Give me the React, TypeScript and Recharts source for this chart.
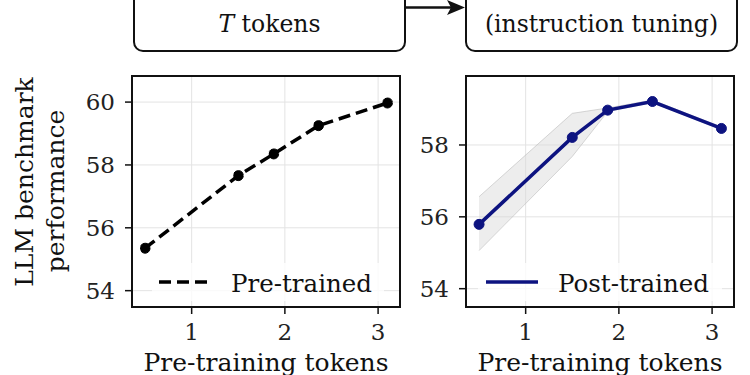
import React from 'react';
import {
  ComposedChart, Line, Area, XAxis, YAxis, CartesianGrid, Legend, ReferenceArea,
} from 'recharts';

// pre-training tokens (x) for each checkpoint
const tokens = [0.5, 1.5, 1.88, 2.36, 3.1];
const preTrained = [55.35, 57.66, 58.35, 59.25, 59.97];
const postTrained = [55.79, 58.21, 58.97, 59.21, 58.46];
const postLow = [55.06, 57.68, 58.93, 59.18, 58.43];
const postHigh = [56.56, 58.88, 59.03, 59.25, 58.5];

const xTicks = [1, 2, 3];
const leftYTicks = [54, 56, 58, 60];
const rightYTicks = [54, 56, 58];

const xDomain: [number, number] = [0.36, 3.235];
const leftYDomain: [number, number] = [53.48, 60.83];
const rightYDomain: [number, number] = [53.49, 59.92];

const preData = tokens.map((t, i) => ({ t, value: preTrained[i] }));
const postData = tokens.map((t, i) => ({ t, value: postTrained[i], band: [postLow[i], postHigh[i]] }));

const FONT = '"DejaVu Serif", serif';
const NAVY = '#0d1380';
const tickStyle = { fontFamily: FONT, fontSize: 23, fill: '#222' };

const xLabel = {
  value: 'Pre-training tokens',
  position: 'insideBottom' as const,
  offset: 4,
  style: { fontFamily: FONT, fontSize: 25, fill: '#111', textAnchor: 'middle' as const },
};

const LegendBox = ({ label, dashed, color, width, lineX }: { label: string; dashed: boolean; color: string; width: number; lineX: number }) => (
  <svg width={width} height={38} style={{ display: 'block' }}>
    <rect x={0} y={0} width={width} height={38} fill="#fff" fillOpacity={0.8} />
    <line x1={lineX} x2={lineX + 52} y1={19} y2={19} stroke={color} strokeWidth={3.5} strokeDasharray={dashed ? '12 6' : undefined} />
    <text x={lineX + 72} y={29} fontFamily={FONT} fontSize={24.5} fill="#111">{label}</text>
  </svg>
);

const App: React.FC = () => {
  return (
    <div style={{ position: 'absolute', left: 0, top: 0, width: 750, height: 375, background: '#fff', overflow: 'hidden' }}>
      {/* left panel: pre-trained */}
      <div style={{ position: 'absolute', left: 60, top: 60 }}>
        <ComposedChart width={360} height={315} data={preData} margin={{ top: 16, right: 20, left: 12, bottom: 0 }}>
          <CartesianGrid stroke="#e3e3e3" strokeWidth={1} />
          <XAxis type="number" dataKey="t" domain={xDomain} ticks={xTicks} allowDataOverflow height={68}
            tick={tickStyle} tickSize={7} tickMargin={10} axisLine={{ stroke: '#111', strokeWidth: 2 }} tickLine={{ stroke: '#111', strokeWidth: 1.5 }}
            label={xLabel} />
          <YAxis type="number" domain={leftYDomain} ticks={leftYTicks} allowDataOverflow width={60}
            tick={tickStyle} tickSize={7} tickMargin={10} axisLine={{ stroke: '#111', strokeWidth: 2 }} tickLine={{ stroke: '#111', strokeWidth: 1.5 }} />
          <ReferenceArea x1={xDomain[0]} x2={xDomain[1]} y1={leftYDomain[0]} y2={leftYDomain[1]} fill="none" stroke="#111" strokeWidth={2} fillOpacity={0} ifOverflow="visible" />
          <Line dataKey="value" name="Pre-trained" stroke="#000" strokeWidth={3.5} strokeDasharray="12 6"
            dot={{ r: 5, fill: '#000', stroke: '#000', strokeWidth: 1 }} isAnimationActive={false} />
          <Legend verticalAlign="middle" align="center" content={() => <LegendBox label="Pre-trained" dashed color="#000" width={232} lineX={7} />}
            wrapperStyle={{ position: 'absolute', left: 92, top: 203, width: 232, height: 38 }} />
        </ComposedChart>
      </div>

      {/* right panel: post-trained */}
      <div style={{ position: 'absolute', left: 394, top: 60 }}>
        <ComposedChart width={356} height={315} data={postData} margin={{ top: 16, right: 16, left: 12, bottom: 0 }}>
          <CartesianGrid stroke="#e3e3e3" strokeWidth={1} />
          <XAxis type="number" dataKey="t" domain={xDomain} ticks={xTicks} allowDataOverflow height={68}
            tick={tickStyle} tickSize={7} tickMargin={10} axisLine={{ stroke: '#111', strokeWidth: 2 }} tickLine={{ stroke: '#111', strokeWidth: 1.5 }}
            label={xLabel} />
          <YAxis type="number" domain={rightYDomain} ticks={rightYTicks} allowDataOverflow width={60}
            tick={tickStyle} tickSize={7} tickMargin={10} axisLine={{ stroke: '#111', strokeWidth: 2 }} tickLine={{ stroke: '#111', strokeWidth: 1.5 }} />
          <Area dataKey="band" stroke="#bdbdbd" strokeOpacity={0.6} strokeWidth={1} fill="#d6d6d6" fillOpacity={0.45}
            isAnimationActive={false} legendType="none" />
          <ReferenceArea x1={xDomain[0]} x2={xDomain[1]} y1={rightYDomain[0]} y2={rightYDomain[1]} fill="none" stroke="#111" strokeWidth={2} fillOpacity={0} ifOverflow="visible" />
          <Line dataKey="value" name="Post-trained" stroke={NAVY} strokeWidth={3.5}
            dot={{ r: 5, fill: NAVY, stroke: NAVY, strokeWidth: 1 }} isAnimationActive={false} />
          <Legend verticalAlign="middle" align="center" content={() => <LegendBox label="Post-trained" dashed={false} color={NAVY} width={244} lineX={8} />}
            wrapperStyle={{ position: 'absolute', left: 84, top: 203, width: 244, height: 38 }} />
        </ComposedChart>
      </div>

      {/* diagram boxes above + shared y label */}
      <svg width={750} height={375} style={{ position: 'absolute', left: 0, top: 0, pointerEvents: 'none' }}>
        <rect x={134} y={-20} width={271} height={71} rx={9} fill="#fff" stroke="#111" strokeWidth={2} />
        <rect x={466} y={-20} width={271} height={71} rx={9} fill="#fff" stroke="#111" strokeWidth={2} />
        <line x1={405} x2={452} y1={7.5} y2={7.5} stroke="#111" strokeWidth={2.5} />
        <polygon points="465,7.5 447,0 451,7.5 447,15" fill="#111" />
        <text x={269.5} y={32} textAnchor="middle" fontFamily={FONT} fontSize={23.5} fill="#111">
          <tspan fontStyle="italic">T</tspan> tokens
        </text>
        <text x={601.5} y={32} textAnchor="middle" fontFamily={FONT} fontSize={23.5} fill="#111">(instruction tuning)</text>
        <text transform="translate(33,182) rotate(-90)" textAnchor="middle" fontFamily={FONT} fontSize={25} fill="#111">LLM benchmark</text>
        <text transform="translate(64,191) rotate(-90)" textAnchor="middle" fontFamily={FONT} fontSize={25} fill="#111">performance</text>
      </svg>
    </div>
  );
};

export default App;
